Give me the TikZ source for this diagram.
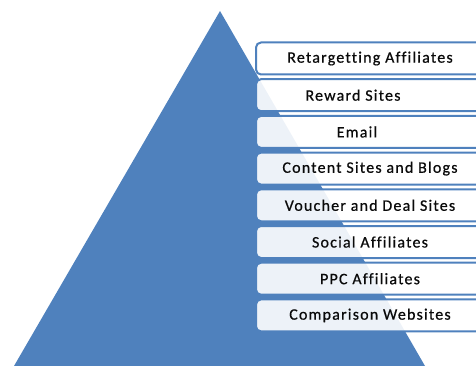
\documentclass[tikz,border=0pt]{standalone}
\usepackage{fontspec}
\setmainfont{Carlito}
\newfontfamily\tierfont[LetterSpace=7.5, Ligatures=NoCommon, FakeBold=0.6]{Carlito}
\definecolor{pyrblue}{HTML}{4F81BD}
\definecolor{labelink}{HTML}{0A0A0A}
\begin{document}
\begin{tikzpicture}[x=1pt,y=-1pt,
  tier/.style={draw=pyrblue, line width=2pt, rounded corners=5pt,
    fill=white, fill opacity=0.9, minimum width=228pt, minimum height=32pt,
    inner sep=0pt},
  tiertext/.style={font=\tierfont\fontsize{16}{19}\selectfont, text=labelink, inner sep=0pt}]
\useasboundingbox (0,0) rectangle (476,366);
\clip (0,0) rectangle (476,366);
% pyramid
\coordinate (apex) at (220,11);
\coordinate (baseR) at (425,366);
\coordinate (baseL) at (14,366);
\fill[pyrblue] (apex) -- (baseR) -- (baseL) -- cycle;
% tiers, top to bottom
\node[tier] (t1) at (370,58.5) {};
\node[tier] (t2) at (370,95.2) {};
\node[tier] (t3) at (370,131.9) {};
\node[tier] (t4) at (370,168.6) {};
\node[tier] (t5) at (370,205.3) {};
\node[tier] (t6) at (370,242.0) {};
\node[tier] (t7) at (370,278.7) {};
\node[tier] (t8) at (370,315.4) {};
% labels
\node[tiertext] (l1) at (t1.center) {Retargetting Affiliates};
\node[tiertext, xshift=-17pt] (l2) at (t2.center) {Reward Sites};
\node[tiertext, xshift=-13pt] (l3) at (t3.center) {Email};
\node[tiertext] (l4) at (t4.center) {Content Sites and Blogs};
\node[tiertext] (l5) at (t5.center) {Voucher and Deal Sites};
\node[tiertext] (l6) at (t6.center) {Social Affiliates};
\node[tiertext] (l7) at (t7.center) {PPC Affiliates};
\node[tiertext] (l8) at (t8.center) {Comparison Websites};
\end{tikzpicture}
\end{document}
